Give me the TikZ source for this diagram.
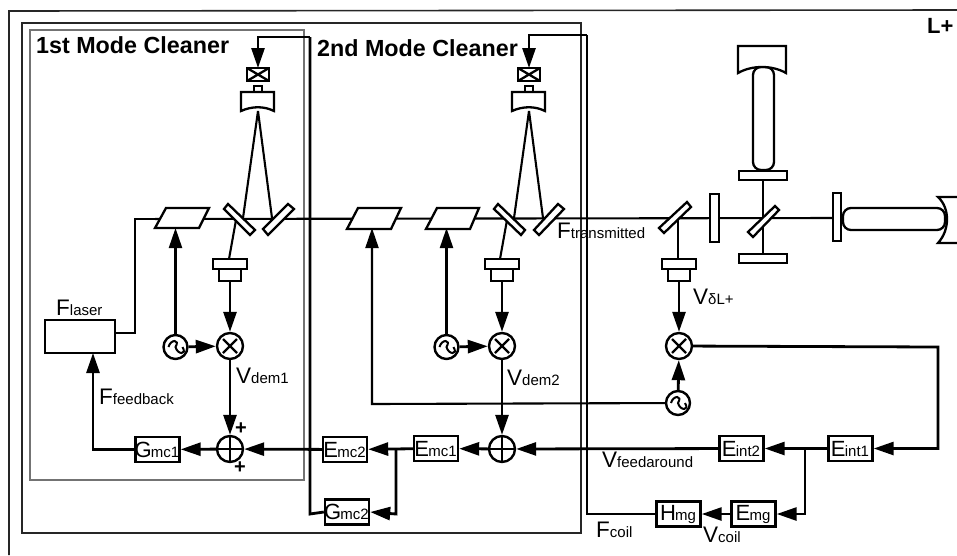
\documentclass[tikz,border=0pt]{standalone}
\usepackage{fontspec}
\setmainfont{Liberation Sans}
\usetikzlibrary{arrows.meta,calc}
\newcommand{\lbl}[2]{{\fontsize{22.5}{22}\selectfont #1}{\fontsize{15}{15}\selectfont #2}}
\newcommand{\bxl}[2]{\kern-1pt{\fontsize{22}{22}\selectfont #1}{\kern-0.8pt\fontsize{15}{15}\selectfont #2}}
\tikzset{
  x=1pt,y=-1pt,
  ln/.style={line width=2.1pt,black},
  thk/.style={line width=2.8pt,black},
  arr/.style={-{Triangle[length=20pt,width=13pt]},shorten >=0pt},
  opt/.style={line width=2.3pt,fill=white,draw=black,line join=miter},
  frame/.style={line width=1.6pt,draw=black!85},
  blk/.style={draw,line width=2.4pt,fill=white,minimum width=44pt,minimum height=25pt,inner sep=0pt},
  mix/.style={circle,draw,line width=2.4pt,fill=white,minimum size=26pt,inner sep=0pt,
    path picture={\draw[line width=2.4pt] (path picture bounding box.center) ++(-7,-7) -- ++(14,14) ++(0,-14) -- ++(-14,14);}},
  addr/.style={circle,draw,line width=2.4pt,fill=white,minimum size=26pt,inner sep=0pt,
    path picture={\draw[line width=2.4pt] (path picture bounding box.center) ++(-13,0) -- ++(26,0) ++(-13,-13) -- ++(0,26);}},
  osc/.style={circle,draw,line width=2.4pt,fill=white,minimum size=24pt,inner sep=0pt,
    path picture={\draw[line width=2pt] (path picture bounding box.center) ++(-7,0) .. controls ++(2,-8) and ++(5,-8) .. ++(7,0) .. controls ++(2,8) and ++(5,8) .. ++(7,0);}},
  txt/.style={inner sep=0pt,anchor=base west},
  ttl/.style={inner sep=0pt,anchor=base west,font=\fontsize{23.3}{24}\selectfont\bfseries},
}
\begin{document}
\begin{tikzpicture}
\useasboundingbox (0,0) rectangle (957,555);
% frames
\draw[frame] (9,555) -- (9,11) -- (957,10);
\draw[frame] (22,23) rectangle (581,533);
\draw[frame,draw=black!55,line width=1.8pt] (30,30) rectangle (304,480);
% named points
\coordinate (topA) at (258,37);
\coordinate (cornA) at (310,37);
\coordinate (topB) at (529,35);
\coordinate (cornB) at (587,35);
% blocks
\node[draw,line width=2.4pt,fill=white,minimum width=70pt,minimum height=33pt,inner sep=0pt] (laser) at (80,336.5) {};
\node[blk] (gmc1) at (157.5,449.5) {\bxl{G}{mc1}};
\node[blk] (emc2) at (345,449.5) {\bxl{E}{mc2}};
\node[blk] (emc1) at (436,448.5) {\bxl{E}{mc1}};
\node[blk] (gmc2) at (347,512) {\bxl{G}{mc2}};
\node[blk] (eint2) at (741.5,448.5) {\bxl{E}{int2}};
\node[blk] (eint1) at (850.5,448.5) {\bxl{E}{int1}};
\node[blk] (emg) at (753.5,514) {\bxl{E}{mg}};
\node[blk] (hmg) at (678.5,514) {\bxl{H}{mg}};
\node[mix] (mixA) at (230,346) {};
\node[mix] (mixB) at (502,346) {};
\node[mix] (mixC) at (679,346) {};
\node[addr] (sumA) at (230,449) {};
\node[addr] (sumB) at (502,449) {};
\node[osc] (oscA) at (175.5,347) {};
\node[osc] (oscB) at (446.5,347) {};
\node[osc] (oscC) at (678,403) {};
% coordinates on the optics
\coordinate (modA) at (175.5,228);
\coordinate (modB) at (372,228);
\coordinate (modC) at (446.5,228);
\coordinate (coilA) at (258,68);
\coordinate (coilB) at (529,68);
\node[inner sep=0pt,minimum width=33pt,minimum height=10pt] (pdAt) at (230,264) {};
\node[inner sep=0pt,minimum width=21pt,minimum height=12pt] (pdAb) at (230,275) {};
\node[inner sep=0pt,minimum width=33pt,minimum height=10pt] (pdBt) at (502,264) {};
\node[inner sep=0pt,minimum width=21pt,minimum height=12pt] (pdBb) at (502,275) {};
\node[inner sep=0pt,minimum width=33pt,minimum height=10pt] (pdCt) at (679,264) {};
\node[inner sep=0pt,minimum width=21pt,minimum height=12pt] (pdCb) at (679,275) {};
% beam
\draw[ln] (laser.east |- 0,333) -- (135,333) -- (135,219) -- (155,219);
\draw[ln] (155,219) -- (840,218);
\draw[ln] (763,175) -- (763,258);
% mode cleaner beams
\draw[ln] (258,111) -- (243,218);
\draw[ln] (258,111) -- (272,218);
\draw[ln] (236,220) -- (229,259);
\draw[ln] (529,111) -- (514,218);
\draw[ln] (529,111) -- (543,218);
\draw[ln] (507,220) -- (500,259);
\draw[ln] (678,218) -- (678,259);
% modulators
\draw[opt] (155,228) -- (199,228) -- (209,208) -- (166,208) -- cycle;
\draw[opt] (347,229) -- (391,229) -- (401,208) -- (358,208) -- cycle;
\draw[opt] (426,229) -- (470,229) -- (479,208) -- (437,208) -- cycle;
% mirrors
\draw[opt] (224,209) -- (228,204) -- (255,230) -- (250,235) -- cycle;
\draw[opt] (288,204) -- (294,209) -- (268,235) -- (263,229) -- cycle;
\draw[opt] (494,209) -- (498,204) -- (525,230) -- (521,235) -- cycle;
\draw[opt] (558,204) -- (564,209) -- (539,235) -- (534,230) -- cycle;
\draw[opt] (687,202) -- (691,207) -- (664,233) -- (659,228) -- cycle;
\draw[opt] (775,206) -- (779,210) -- (753,237) -- (748,232) -- cycle;
\draw[opt] (710,194) rectangle (719,242);
\draw[opt] (833,193) rectangle (841,241);
\draw[opt] (739,171) rectangle (787,180);
\draw[opt] (739,254) rectangle (787,263);
% arm cavities
\draw[opt,rounded corners=8pt] (753,67) rectangle (774,170);
\draw[opt,rounded corners=8pt] (843,208) rectangle (945,230);
% curved mirrors
\foreach \cx in {258,529}{
  \draw[opt] (\cx-4,86) rectangle (\cx+4,92);
  \draw[opt] (\cx-17,92) -- (\cx+16,92) -- (\cx+16,111) .. controls (\cx+6,106) and (\cx-6,106) .. (\cx-17,111) -- cycle;
  \draw[opt] (\cx-11,68) rectangle (\cx+11,81);
  \draw[line width=2.3pt] (\cx-11,68) -- (\cx+11,81) (\cx-11,81) -- (\cx+11,68);
}
\draw[opt] (738,46) -- (786,46) -- (786,73) .. controls (772,65) and (752,65) .. (738,73) -- cycle;
\draw[opt] (957,197) -- (938,197) .. controls (950,208) and (950,230) .. (938,243) -- (957,243);
% detectors
\foreach \n in {A,B,C}{
  \draw[opt] (pd\n b.north west) rectangle (pd\n b.south east);
  \draw[opt] (pd\n t.north west) rectangle (pd\n t.south east);
}
% MC feedback lines
\draw[thk,arr] (cornA) -- (topA) -- (coilA);
\draw[thk] (cornA) -- (310,514) -- (gmc2.west);
\draw[thk,arr] (cornB) -- (topB) -- (coilB);
\draw[thk] (cornB) -- (587,514) -- (hmg.west);
% signal paths
\draw[thk,arr] (pdAb.south) -- (mixA);
\draw[thk,arr] (pdBb.south) -- (mixB);
\draw[thk,arr] (pdCb.south) -- (mixC);
\draw[thk,arr] (oscA) -- (mixA);
\draw[thk,arr] (oscB) -- (mixB);
\draw[thk,arr] (oscC) -- (mixC);
\draw[ln,arr] (oscA) -- (modA);
\draw[ln,arr] (oscB) -- (modC);
\draw[ln,arr] (oscC) -- (372,404) -- (modB);
\draw[thk,arr] (mixA) -- (sumA);
\draw[thk,arr] (mixB) -- (sumB);
\draw[thk,arr] (sumA) -- (gmc1);
\draw[thk,arr] (gmc1.west) -- (93,449.5) -- (93,353);
\draw[thk,arr] (emc2) -- (sumA);
\draw[thk,arr] (emc1) -- (emc2);
\draw[thk,arr] (396,449) -- (396,514) -- (gmc2.east);
\draw[thk,arr] (sumB) -- (emc1);
\draw[thk,arr] (eint2) -- (sumB);
\draw[thk,arr] (eint1) -- (eint2);
\draw[thk,arr] (805,449) -- (805,514) -- (emg.east);
\draw[thk,arr] (emg) -- (hmg);
\draw[thk,arr] (mixC) -- (938,347) -- (938,448.5) -- (eint1.east);
% titles
\node[ttl] (t1) at (36,53) {1st Mode Cleaner};
\node[ttl] (t2) at (317,56) {2nd Mode Cleaner};
\node[ttl,font=\fontsize{22}{22}\selectfont\bfseries] (t3) at (927,33) {L+};
% labels
\node[txt] (l1) at (56,315) {\lbl{F}{laser}};
\node[txt] (l2) at (99,404) {\lbl{F}{feedback}};
\node[txt] (l3) at (236,383) {\lbl{V}{dem1}};
\node[txt] (l4) at (507,385) {\lbl{V}{dem2}};
\node[txt] (l5) at (557,238) {\lbl{F}{transmitted}};
\node[txt] (l6) at (693,304) {\lbl{V}{δL+}};
\node[txt] (l7) at (602,467) {\lbl{V}{feedaround}};
\node[txt] (l8) at (596,537) {\lbl{F}{coil}};
\node[txt] (l9) at (703,542) {\lbl{V}{coil}};
\node[txt,font=\fontsize{20}{20}\selectfont\bfseries] (p1) at (235,434) {+};
\node[txt,font=\fontsize{20}{20}\selectfont\bfseries] (p2) at (234,473) {+};
\end{tikzpicture}
\end{document}
